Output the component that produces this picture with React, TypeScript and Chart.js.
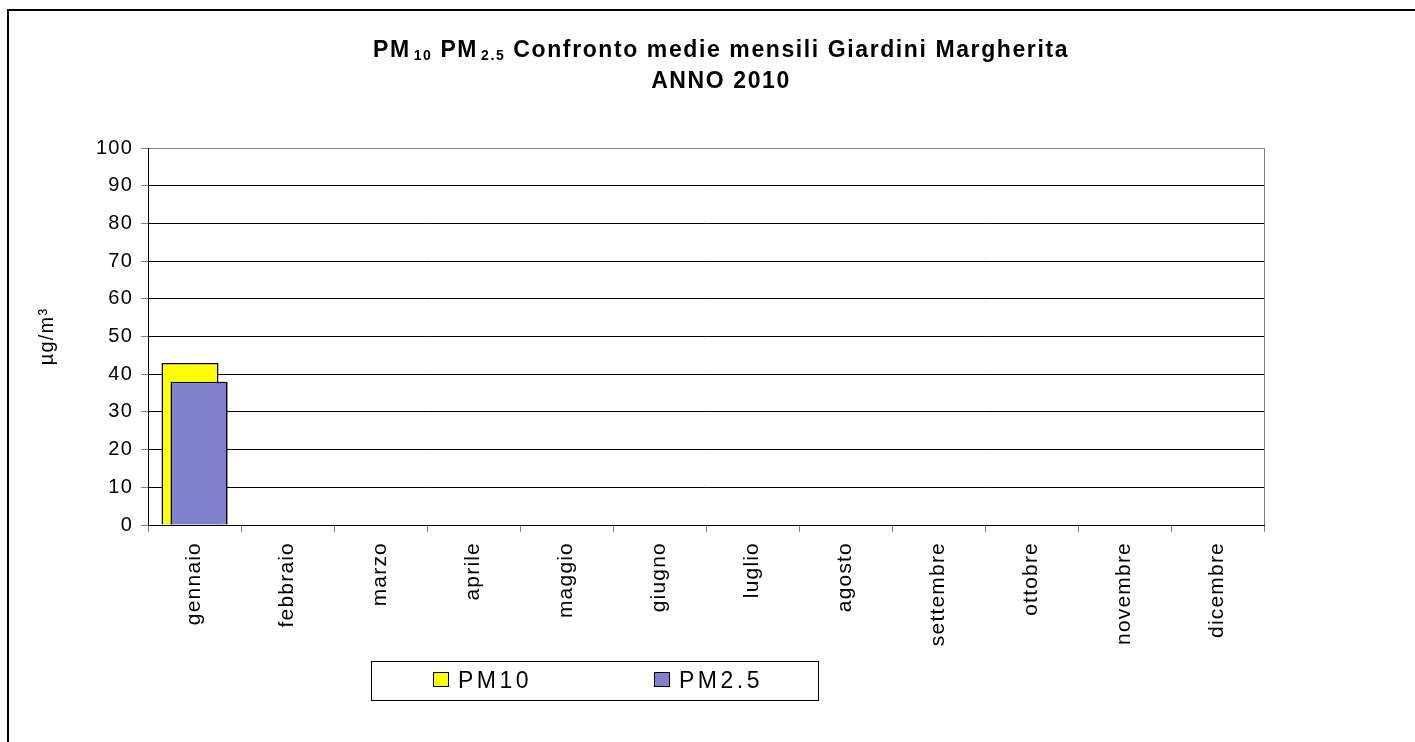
import React, { useEffect, useRef } from "react";
import { Chart, registerables } from "chart.js";

Chart.register(...registerables);

const months = [
  "gennaio",
  "febbraio",
  "marzo",
  "aprile",
  "maggio",
  "giugno",
  "luglio",
  "agosto",
  "settembre",
  "ottobre",
  "novembre",
  "dicembre",
];
const pm10: (number | null)[] = [43, null, null, null, null, null, null, null, null, null, null, null];
const pm25: (number | null)[] = [38, null, null, null, null, null, null, null, null, null, null, null];
const seriesLabels = ["PM10", "PM2.5"];
const seriesColors = ["#FFFF00", "#8080CC"];
const yMin = 0;
const yMax = 100;
const yStep = 10;
const yTitle = "µg/m³";
const titleLine1 = [
  { t: "PM", sub: false },
  { t: "10", sub: true },
  { t: " PM", sub: false },
  { t: "2.5", sub: true },
  { t: " Confronto medie mensili Giardini Margherita", sub: false },
];
const titleLine2 = "ANNO 2010";

const FAMILY = "'Liberation Sans', Arial, Helvetica, sans-serif";

const spacingPlugin = {
  id: "spacing",
  beforeDraw(chart: any) {
    chart.ctx.letterSpacing = "1.2px";
  },
};

const plotBorderPlugin = {
  id: "plotBorder",
  beforeDatasetsDraw(chart: any) {
    const { ctx, chartArea } = chart;
    ctx.save();
    ctx.strokeStyle = "#808080";
    ctx.lineWidth = 1;
    ctx.beginPath();
    ctx.moveTo(Math.round(chartArea.right) + 0.5, chartArea.top);
    ctx.lineTo(Math.round(chartArea.right) + 0.5, chartArea.bottom);
    ctx.stroke();
    ctx.restore();
  },
};

// Excel draws later series in front: redraw the second series over the first
const frontSeriesPlugin = {
  id: "frontSeries",
  afterDatasetsDraw(chart: any) {
    const ctx = chart.ctx;
    const meta = chart.getDatasetMeta(1);
    ctx.save();
    meta.data.forEach((el: any) => {
      if (el && !el.skip) el.draw(ctx, chart.chartArea);
    });
    ctx.restore();
  },
};

const titlePlugin = {
  id: "customTitle",
  afterDraw(chart: any) {
    const ctx = chart.ctx;
    ctx.save();
    ctx.fillStyle = "#000";
    ctx.textBaseline = "alphabetic";
    ctx.textAlign = "left";
    ctx.letterSpacing = "1.6px";
    const bigFont = `bold 23px ${FAMILY}`;
    const subFont = `bold 14px ${FAMILY}`;
    let total = 0;
    const widths = titleLine1.map((s) => {
      ctx.font = s.sub ? subFont : bigFont;
      const w = ctx.measureText(s.t).width + (s.sub ? 3 : 0);
      total += w;
      return w;
    });
    const cx = 721;
    let x = cx - total / 2;
    titleLine1.forEach((s, i) => {
      ctx.font = s.sub ? subFont : bigFont;
      ctx.fillText(s.t, x + (s.sub ? 3 : 0), s.sub ? 60 : 57);
      x += widths[i];
    });
    ctx.font = bigFont;
    const w2 = ctx.measureText(titleLine2).width;
    ctx.fillText(titleLine2, cx - w2 / 2, 88);
    ctx.restore();
  },
};

const legendPlugin = {
  id: "customLegend",
  afterDraw(chart: any) {
    const ctx = chart.ctx;
    ctx.save();
    ctx.strokeStyle = "#000";
    ctx.lineWidth = 1;
    ctx.strokeRect(371.5, 661.5, 447, 39);
    const itemX = [433, 654];
    ctx.font = `23px ${FAMILY}`;
    ctx.letterSpacing = "3.5px";
    ctx.textBaseline = "alphabetic";
    ctx.textAlign = "left";
    chart.data.datasets.forEach((ds: any, i: number) => {
      const x = itemX[i];
      ctx.fillStyle = ds.backgroundColor;
      ctx.fillRect(x + 0.5, 672.5, 15, 14);
      ctx.strokeStyle = "#000";
      ctx.strokeRect(x + 0.5, 672.5, 15, 14);
      ctx.fillStyle = "#000";
      ctx.fillText(ds.label, x + 25, 688);
    });
    ctx.restore();
  },
};

export default function App() {
  const canvasRef = useRef<HTMLCanvasElement | null>(null);

  useEffect(() => {
    document.body.style.margin = "0";
    const canvas = canvasRef.current;
    if (!canvas) return;
    const chart = new Chart(canvas, {
      type: "bar",
      data: {
        labels: months,
        datasets: [
          {
            label: seriesLabels[0],
            data: pm10,
            backgroundColor: seriesColors[0],
            borderColor: "#000",
            borderWidth: 1.5,
            categoryPercentage: 18 / 93,
            barPercentage: 57 / 9,
          },
          {
            label: seriesLabels[1],
            data: pm25,
            backgroundColor: seriesColors[1],
            borderColor: "#000",
            borderWidth: 1.5,
            categoryPercentage: 18 / 93,
            barPercentage: 57 / 9,
          },
        ] as any,
      },
      options: {
        animation: false,
        responsive: false,
        maintainAspectRatio: false,
        layout: { padding: { left: 0, top: 148, right: 151, bottom: 0 } },
        plugins: {
          legend: { display: false },
          title: { display: false },
          tooltip: { enabled: false },
        },
        scales: {
          x: {
            type: "category",
            afterFit: (scale: any) => {
              scale.height = 217;
            },
            grid: {
              offset: true,
              drawOnChartArea: false,
              drawTicks: true,
              tickLength: 7,
              color: "#808080",
            },
            border: { display: true, color: "#000", width: 1 },
            ticks: {
              minRotation: 90,
              maxRotation: 90,
              autoSkip: false,
              padding: 10,
              color: "#000",
              font: { family: FAMILY, size: 21 },
            },
          },
          y: {
            min: yMin,
            max: yMax,
            afterFit: (scale: any) => {
              scale.width = 148;
            },
            grid: {
              color: (c: any) => (c.tick && c.tick.value === yMax ? "#808080" : "#000"),
              tickColor: "#808080",
              tickLength: 7,
              lineWidth: 1,
            },
            border: { display: true, color: "#000", width: 1 },
            ticks: {
              stepSize: yStep,
              padding: 8,
              color: "#000",
              font: { family: FAMILY, size: 20 },
            },
            title: {
              display: true,
              text: yTitle,
              color: "#000",
              font: { family: FAMILY, size: 20 },
              padding: { top: 35, bottom: 0 },
            },
          },
        },
      } as any,
      plugins: [spacingPlugin, plotBorderPlugin, frontSeriesPlugin, titlePlugin, legendPlugin],
    });
    return () => chart.destroy();
  }, []);

  return (
    <div style={{ position: "fixed", left: 0, top: 0, width: 1415, height: 742, background: "#fff", overflow: "hidden" }}>
      <div
        style={{
          position: "absolute",
          left: 7,
          top: 9,
          width: 1420,
          height: 740,
          borderLeft: "2px solid #000",
          borderTop: "2px solid #000",
        }}
      />
      <canvas
        ref={canvasRef}
        width={1415}
        height={742}
        style={{ position: "absolute", left: 0, top: 0, width: 1415, height: 742 }}
      />
    </div>
  );
}
